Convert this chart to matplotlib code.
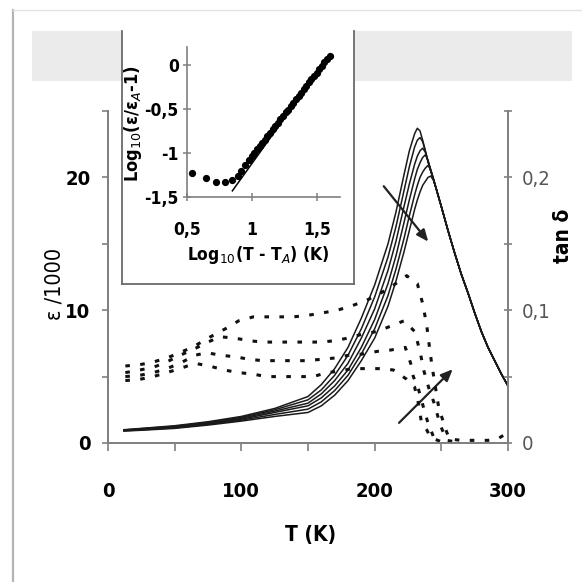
import matplotlib
matplotlib.use("Agg")
import matplotlib.pyplot as plt
from matplotlib.patches import Rectangle
from matplotlib.lines import Line2D
from matplotlib.ticker import FixedLocator, FixedFormatter

# ---------------- data ----------------
# permittivity curves (eps/1000) on a common temperature grid
T_eps = [12, 25, 50, 75, 100, 125, 150, 160, 170, 180, 190, 200, 210, 216, 222, 226,
         230, 232, 234, 236, 238, 240, 242, 244,
         246, 250, 255, 260, 265, 270, 275, 280, 285, 290, 295, 300]
eps_tail = [19.2, 17.8, 16.0, 14.3, 12.7, 11.3, 9.8, 8.4, 7.2, 6.2, 5.2, 4.3]
eps_c1 = [1.0, 1.1, 1.3, 1.6, 2.0, 2.6, 3.5, 4.4, 5.6, 7.2, 9.4, 11.9, 15.0, 17.4, 20.2, 22.0,
          23.3, 23.7, 23.5, 22.8, 22.0, 21.2, 20.5, 19.9]
eps_c2 = [0.98, 1.08, 1.26, 1.55, 1.93, 2.5, 3.25, 4.0, 5.1, 6.6, 8.6, 11.0, 14.0, 16.3, 19.0, 20.8,
          22.3, 22.8, 23.0, 22.7, 22.0, 21.2, 20.5, 19.9]
eps_c3 = [0.96, 1.05, 1.22, 1.5, 1.86, 2.4, 3.0, 3.7, 4.7, 6.0, 7.9, 10.1, 13.0, 15.2, 17.8, 19.5,
          21.0, 21.6, 22.0, 22.2, 21.9, 21.2, 20.5, 19.9]
eps_c4 = [0.94, 1.02, 1.18, 1.45, 1.79, 2.3, 2.8, 3.4, 4.3, 5.5, 7.2, 9.3, 12.0, 14.1, 16.6, 18.3,
          19.9, 20.6, 21.1, 21.5, 21.7, 21.3, 20.6, 19.9]
eps_c5 = [0.92, 0.99, 1.14, 1.4, 1.72, 2.15, 2.55, 3.1, 3.95, 5.1, 6.7, 8.6, 11.1, 13.1, 15.4, 17.1,
          18.7, 19.4, 20.0, 20.4, 20.7, 20.9, 20.6, 19.9]
eps_c6 = [0.9, 0.96, 1.1, 1.35, 1.65, 2.0, 2.3, 2.8, 3.6, 4.7, 6.2, 7.9, 10.3, 12.2, 14.4, 16.0,
          17.6, 18.3, 18.9, 19.4, 19.7, 20.0, 20.1, 19.8]

# loss tangent curves
tan1_T = [13, 24, 34, 44, 54, 65, 75, 88, 98, 109, 119, 129, 139, 149, 161, 172, 182, 193, 203, 213,
          224, 232, 236, 239, 241, 243, 248, 253, 256, 265, 275, 285, 292, 297, 300]
tan1_v = [0.058, 0.059, 0.061, 0.064, 0.068, 0.073, 0.079, 0.086, 0.092, 0.095, 0.095, 0.095, 0.095,
          0.096, 0.098, 0.100, 0.103, 0.107, 0.112, 0.118, 0.126, 0.120, 0.105, 0.089, 0.073, 0.058,
          0.027, 0.011, 0.003, 0.002, 0.002, 0.002, 0.003, 0.006, 0.004]
tan2_T = [13, 24, 34, 44, 54, 65, 75, 84, 95, 106, 116, 127, 138, 148, 160, 170, 180, 191, 202, 212,
          222, 230, 234, 237, 241, 245, 249, 254, 260]
tan2_v = [0.053, 0.055, 0.057, 0.061, 0.066, 0.071, 0.076, 0.080, 0.079, 0.077, 0.076, 0.076, 0.076,
          0.076, 0.076, 0.077, 0.079, 0.082, 0.084, 0.088, 0.092, 0.084, 0.069, 0.054, 0.040, 0.029,
          0.014, 0.002, 0.001]
tan3_T = [13, 24, 34, 44, 54, 65, 74, 85, 95, 106, 116, 127, 138, 148, 160, 170, 180, 191, 202, 212,
          223, 227, 229, 233, 236, 240, 244, 250]
tan3_v = [0.050, 0.051, 0.053, 0.056, 0.060, 0.066, 0.068, 0.066, 0.065, 0.063, 0.062, 0.062, 0.062,
          0.062, 0.063, 0.064, 0.066, 0.067, 0.069, 0.070, 0.072, 0.060, 0.050, 0.040, 0.029, 0.015,
          0.005, 0.001]
tan4_T = [13, 24, 34, 44, 54, 65, 76, 87, 98, 108, 119, 130, 140, 154, 164, 173, 183, 193, 203, 214,
          224, 230, 233, 235, 239, 242, 250]
tan4_v = [0.047, 0.048, 0.050, 0.053, 0.056, 0.060, 0.058, 0.055, 0.053, 0.052, 0.050, 0.050, 0.050,
          0.050, 0.053, 0.054, 0.056, 0.056, 0.056, 0.055, 0.048, 0.042, 0.029, 0.016, 0.010, 0.004,
          0.001]

# inset: log10(eps/epsA - 1) vs log10(T - TA)
inset_x = [0.54, 0.65, 0.72, 0.79, 0.85, 0.89, 0.92, 0.95, 0.98, 1.00, 1.02, 1.04, 1.06, 1.08, 1.10,
           1.12, 1.14, 1.16, 1.18, 1.20, 1.22, 1.24, 1.26, 1.28, 1.30, 1.32, 1.34, 1.36, 1.38,
           1.40, 1.42, 1.44, 1.46, 1.48, 1.50, 1.52, 1.54, 1.56, 1.58, 1.60]
inset_y = [-1.23, -1.29, -1.33, -1.33, -1.31, -1.26, -1.20, -1.14, -1.08, -1.04, -1.00, -0.96, -0.92,
           -0.89, -0.85, -0.81, -0.77, -0.73, -0.70, -0.66, -0.62, -0.58, -0.54, -0.51, -0.47,
           -0.43, -0.39, -0.35, -0.32, -0.28, -0.24, -0.20, -0.16, -0.13, -0.09, -0.05, -0.01,
           0.03, 0.06, 0.10]
fit_x = [0.85, 1.60]
fit_y = [-1.43, 0.11]

x_ticks = [0, 100, 200, 300]
x_minor = [50, 150, 250]
y_ticks = [0, 5, 10, 15, 20, 25]
y_labels = ["0", "", "10", "", "20", ""]
y2_ticks = [0, 0.05, 0.1, 0.15, 0.2, 0.25]
y2_labels = ["0", "", "0,1", "", "0,2", ""]
in_x_ticks = [0.5, 1.0, 1.5]
in_x_labels = ["0,5", "1", "1,5"]
in_y_ticks = [0, -0.5, -1, -1.5]
in_y_labels = ["0", "-0,5", "-1", "-1,5"]

# ---------------- figure ----------------
W = 582.0
FAM = ["DejaVu Sans"]
plt.rcParams["mathtext.fontset"] = "dejavusans"
fig = plt.figure(figsize=(5.82, 5.82), dpi=100)

def fx(p):
    return p / W

def fy(p):
    return 1 - p / W

def style(t, size, weight="bold"):
    t.set_family(FAM)
    t.set_stretch("condensed")
    t.set_fontsize(size)
    t.set_weight(weight)

# page decorations
fig.patches.append(Rectangle((fx(32), fy(81)), fx(572) - fx(32), 50 / W, transform=fig.transFigure,
                             facecolor="#ebebeb", edgecolor="none", zorder=0))
fig.lines.append(Line2D([fx(13), fx(13)], [0, fy(10)], transform=fig.transFigure,
                        color="#b5b5b5", lw=1.6))
fig.lines.append(Line2D([fx(13), 1], [fy(10), fy(10)], transform=fig.transFigure,
                        color="#e3e3e3", lw=1.0))

ax = fig.add_axes([fx(108), fy(443), 400 / W, 332 / W])
ax.patch.set_alpha(0)
ax2 = ax.twinx()

for c in [eps_c1, eps_c2, eps_c3, eps_c4, eps_c5, eps_c6]:
    ax.plot(T_eps, c + eps_tail, color="#1a1a1a", lw=1.1, solid_joinstyle="round")

for tt, vv in [(tan1_T, tan1_v), (tan2_T, tan2_v), (tan3_T, tan3_v), (tan4_T, tan4_v)]:
    ax2.plot(tt, vv, color="#111111", lw=2.2, ls=(0, (1.5, 3.4)))

ax.set_xlim(0, 300)
ax.set_ylim(0, 25)
ax2.set_ylim(0, 0.25)

spine_c = "#808080"
for a in (ax, ax2):
    a.spines["top"].set_visible(False)
    for s in ("left", "bottom", "right"):
        a.spines[s].set_color(spine_c)
        a.spines[s].set_linewidth(1.3)

ax.xaxis.set_major_locator(FixedLocator(x_ticks))
ax.xaxis.set_minor_locator(FixedLocator(x_minor))
ax.yaxis.set_major_locator(FixedLocator(y_ticks))
ax.yaxis.set_major_formatter(FixedFormatter(y_labels))
ax.tick_params(axis="x", which="both", direction="out", length=6, width=1.2, color=spine_c, pad=22)
ax.tick_params(axis="y", which="both", direction="out", length=4.5, width=1.2, color=spine_c, pad=8)
ax2.yaxis.set_major_locator(FixedLocator(y2_ticks))
ax2.yaxis.set_major_formatter(FixedFormatter(y2_labels))
ax2.tick_params(axis="y", direction="inout", length=6, width=1.2, color=spine_c, pad=7,
                labelcolor="#555555")

for lab in ax.get_xticklabels() + ax.get_yticklabels():
    style(lab, 14.5)
for lab in ax2.get_yticklabels():
    style(lab, 14.5, "normal")

# arrows
ax.annotate("", xy=(241.5, 15.0), xytext=(205.5, 19.5),
            arrowprops=dict(arrowstyle="-|>,head_length=0.7,head_width=0.3", color="#222222", lw=1.6))
ax.annotate("", xy=(260, 5.7), xytext=(216.8, 1.37),
            arrowprops=dict(arrowstyle="-|>,head_length=0.7,head_width=0.3", color="#222222", lw=1.6))

# axis labels
t = fig.text(fx(311), fy(535), "T (K)", ha="center", va="center")
style(t, 15)
t = fig.text(fx(55), fy(284), "ε /1000", ha="center", va="center", rotation=90)
style(t, 15.5, "normal")
t = fig.text(fx(563), fy(236), "tan δ", ha="center", va="center", rotation=90)
style(t, 15)

# inset frame
fig.patches.append(Rectangle((fx(122), fy(284)), fx(354) - fx(122), 253 / W, transform=fig.transFigure,
                             facecolor="white", edgecolor="none", zorder=2))
for xs, ys in [([fx(122), fx(122)], [fy(284), fy(31)]),
               ([fx(354), fx(354)], [fy(284), fy(31)]),
               ([fx(122), fx(354)], [fy(284), fy(284)])]:
    fig.lines.append(Line2D(xs, ys, transform=fig.transFigure, color="#6a6a6a", lw=1.3, zorder=3))

axin = fig.add_axes([fx(187), fy(197), 153 / W, 150 / W])
axin.set_zorder(5)
axin.patch.set_alpha(0)
axin.plot(inset_x, inset_y, "o", color="black", ms=4.2, mec="black")
axin.plot(fit_x, fit_y, color="black", lw=1.1)
axin.set_xlim(0.5, 1.68)
axin.set_ylim(-1.5, 0.2)
axin.spines["top"].set_visible(False)
axin.spines["right"].set_visible(False)
for s in ("left", "bottom"):
    axin.spines[s].set_color(spine_c)
    axin.spines[s].set_linewidth(1.2)
axin.xaxis.set_major_locator(FixedLocator(in_x_ticks))
axin.xaxis.set_major_formatter(FixedFormatter(in_x_labels))
axin.yaxis.set_major_locator(FixedLocator(in_y_ticks))
axin.yaxis.set_major_formatter(FixedFormatter(in_y_labels))
axin.tick_params(axis="x", direction="inout", length=6, width=1.1, color=spine_c, pad=14)
axin.tick_params(axis="y", direction="inout", length=6, width=1.1, color=spine_c, pad=3)
for lab in axin.get_xticklabels() + axin.get_yticklabels():
    style(lab, 12.5)
t = fig.text(fx(258), fy(255), "Log$_{10}$(T - T$_{A}$) (K)", ha="center", va="center", zorder=6)
style(t, 12.5)
t = fig.text(fx(133), fy(124), "Log$_{10}$(ε/ε$_{A}$-1)", ha="center", va="center", rotation=90,
             zorder=6)
style(t, 13)

fig.savefig("out.png", dpi=100)
